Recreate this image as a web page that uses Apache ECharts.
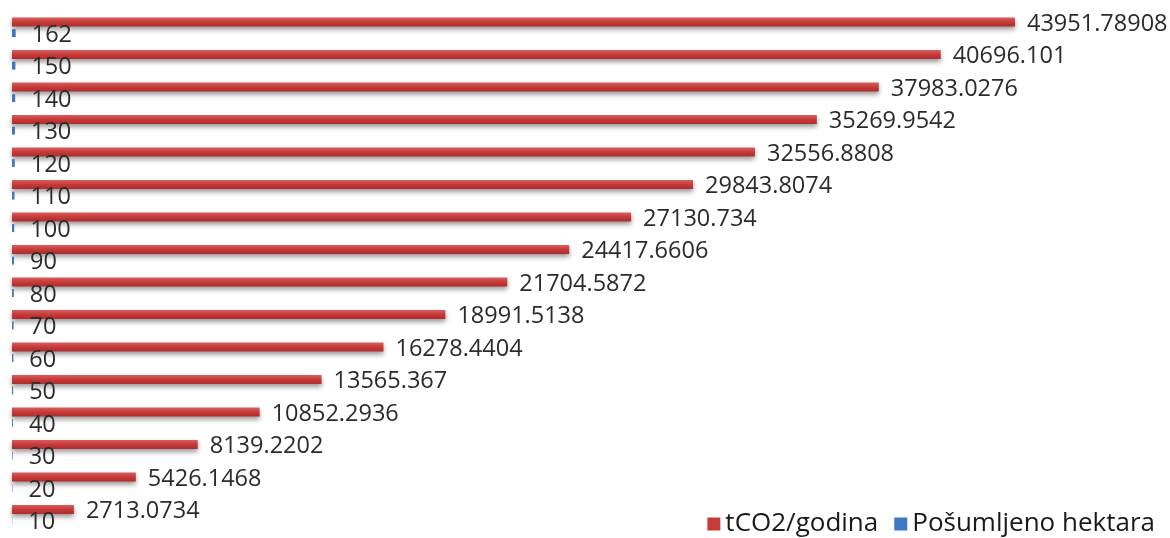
<!DOCTYPE html>
<html>
<head>
<meta charset="utf-8">
<script src="https://cdn.jsdelivr.net/npm/echarts@6/dist/echarts.min.js"></script>
<style>html,body{margin:0;padding:0;background:#fff;}#c{width:1170px;height:538px;}</style>
</head>
<body>
<div id="c"></div>
<script>
const categories = ['10','20','30','40','50','60','70','80','90','100','110','120','130','140','150','162'];
const tco2 = [2713.0734, 5426.1468, 8139.2202, 10852.2936, 13565.367, 16278.4404, 18991.5138, 21704.5872, 24417.6606, 27130.734, 29843.8074, 32556.8808, 35269.9542, 37983.0276, 40696.101, 43951.78908];
const hektara = [10, 20, 30, 40, 50, 60, 70, 80, 90, 100, 110, 120, 130, 140, 150, 162];

const chart = echarts.init(document.getElementById('c'));
const font = '"Open Sans", "Noto Sans", sans-serif';
chart.setOption({
  animation: false,
  textStyle: {fontFamily: font},
  grid: {left: 12, right: 17, top: 11, bottom: 7, containLabel: false},
  xAxis: {type: 'value', min: 0, max: 50000, show: false},
  yAxis: {type: 'category', data: categories, show: false},
  legend: {
    data: [
      {name: 'tCO2/godina', icon: 'rect', itemStyle: {color: '#c63a3a', shadowBlur: 0, shadowOffsetY: 0}},
      {name: 'Pošumljeno hektara', icon: 'rect', itemStyle: {color: '#3f78c2'}}
    ],
    right: 10, bottom: -4,
    itemWidth: 13, itemHeight: 13, itemGap: 16,
    textStyle: {fontSize: 26, color: '#1a1a1a', fontFamily: font}
  },
  series: [
    {
      name: 'tCO2/godina', type: 'bar', data: tco2,
      barWidth: 9, barGap: '30%',
      itemStyle: {
        color: new echarts.graphic.LinearGradient(0,0,0,1,[{offset:0,color:'#d9605e'},{offset:0.5,color:'#c63a3a'},{offset:1,color:'#b02c2c'}]),
        shadowColor: 'rgba(0,0,0,0.4)', shadowBlur: 5, shadowOffsetY: 3
      },
      label: {show: true, position: 'right', distance: 12, fontSize: 23.5, color: '#2b2b2b', fontFamily: font, offset: [0, 2],
        formatter: p => String(p.value)}
    },
    {
      name: 'Pošumljeno hektara', type: 'bar', data: hektara,
      barWidth: 8, barGap: '30%',
      itemStyle: {color: '#3f78c2'},
      label: {show: true, position: 'right', distance: 16, fontSize: 23.5, color: '#2b2b2b', fontFamily: font, offset: [0, 2]}
    }
  ]
});
</script>
</body>
</html>
